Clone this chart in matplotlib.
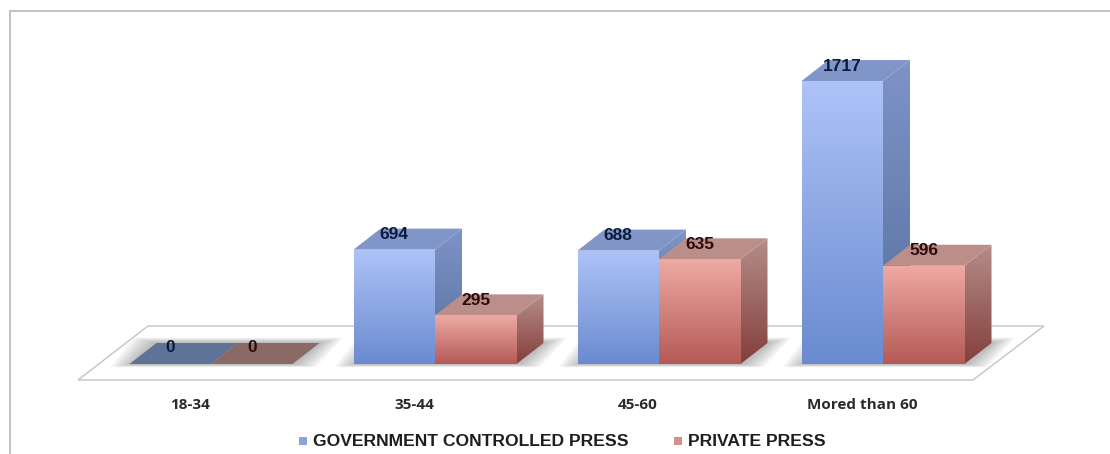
import numpy as np
import matplotlib
matplotlib.use("Agg")
import matplotlib.pyplot as plt
from matplotlib.patches import Polygon
from matplotlib.colors import LinearSegmentedColormap

# values
categories = ["18-34", "35-44", "45-60", "Mored than 60"]
government = [0, 694, 688, 1717]
private = [0, 295, 635, 596]
series_names = ["GOVERNMENT CONTROLLED PRESS", "PRIVATE PRESS"]

W, H = 1110, 454
PX_PER_CAT = 224.0
PX_PER_VAL = 0.1648
BASE_X = 211.0   # pixel of the group centre for category 0
BASE_Y = 364.0   # pixel of value 0, front edge

# depth of the fake 3D box in data units
DX = 27 / PX_PER_CAT
DY = 21 / PX_PER_VAL
BAR_W = 81.5 / PX_PER_CAT

fig = plt.figure(figsize=(W / 100, H / 100), dpi=100)
ax = fig.add_axes([0, 0, 1, 1])
ax.axis("off")
x_lim = (-BASE_X / PX_PER_CAT, (W - BASE_X) / PX_PER_CAT)
y_lim = ((BASE_Y - H) / PX_PER_VAL, BASE_Y / PX_PER_VAL)


def gradient_poly(points, top, bottom, z):
    # fill a polygon with a vertical gradient, imshow clipped to the polygon
    pts = np.array(points)
    cmap = LinearSegmentedColormap.from_list("g", [top, bottom])
    im = ax.imshow(np.linspace(0, 1, 128).reshape(-1, 1), cmap=cmap, aspect="auto",
                   extent=(pts[:, 0].min(), pts[:, 0].max(), pts[:, 1].min(), pts[:, 1].max()),
                   origin="upper", zorder=z)
    clip = Polygon(pts, closed=True, transform=ax.transData, fc="none", ec="none")
    ax.add_patch(clip)
    im.set_clip_path(clip)


def shadow(left, right):
    # soft grey shadow on the floor, stacked see-through shapes
    for k in range(10):
        grow = (9 - k) * 2.6 / PX_PER_CAT
        up = (9 - k) * 0.6 / PX_PER_VAL
        down = (9 - k) * 0.35 / PX_PER_VAL
        pts = [(left - grow + 0.02, -down), (right + grow, -down),
               (right + DX + grow, DY + up), (left + DX - grow, DY + up)]
        ax.add_patch(Polygon(pts, closed=True, fc="#666666", ec="none", alpha=0.06, zorder=2))


def box(left, value, colors, z):
    right = left + BAR_W
    if value == 0:
        flat = [(left, 0), (right, 0), (right + DX, DY), (left + DX, DY)]
        ax.add_patch(Polygon(flat, closed=True, fc=colors["flat"], ec="none", zorder=z))
        return
    # side face
    side = [(right, 0), (right + DX, DY), (right + DX, value + DY), (right, value)]
    gradient_poly(side, colors["side_top"], colors["side_bottom"], z)
    # top face
    top = [(left, value), (right, value), (right + DX, value + DY), (left + DX, value + DY)]
    ax.add_patch(Polygon(top, closed=True, fc=colors["top"], ec="none", zorder=z + 0.1))
    # front face
    front = [(left, 0), (right, 0), (right, value), (left, value)]
    gradient_poly(front, colors["front_top"], colors["front_bottom"], z + 0.2)


blue = {"front_top": "#aec3f8", "front_bottom": "#6a8bd0", "side_top": "#7f93c6",
        "side_bottom": "#54709f", "top": "#8196c8", "flat": "#5f7398"}
red = {"front_top": "#eeaaa4", "front_bottom": "#b45a56", "side_top": "#b58d89",
       "side_bottom": "#843f3c", "top": "#bb8e8a", "flat": "#8b6a66"}

# floor of the chart
fl = -16 / PX_PER_VAL
floor = [(-133 / PX_PER_CAT, fl), (762 / PX_PER_CAT, fl),
         (833 / PX_PER_CAT, fl + 54 / PX_PER_VAL), (-63 / PX_PER_CAT, fl + 54 / PX_PER_VAL)]
ax.add_patch(Polygon(floor, closed=True, fc="white", ec="#c4c4c4", lw=1.0, zorder=1))

for i in range(len(categories)):
    shadow(i - BAR_W, i + BAR_W)

# later categories go on top, the red box goes over the blue side face
for i, (g, p) in enumerate(zip(government, private)):
    box(i - BAR_W, g, blue, 3 + i)
    box(i, p, red, 3.5 + i)


def value_label(xpos, value, color):
    # zero labels sit lower on the flat box
    if value == 0:
        ax.text(xpos, 16 / PX_PER_VAL, str(value), ha="center", va="center", fontsize=12.5,
                fontweight="bold", family="Liberation Sans", color=color, zorder=20)
    else:
        ax.text(xpos, value + 15 / PX_PER_VAL, str(value), ha="center", va="center",
                fontsize=12.5, fontweight="bold", family="Liberation Sans", color=color, zorder=20)


for i, (g, p) in enumerate(zip(government, private)):
    value_label(i - BAR_W / 2, g, "#0c1a3c")
    value_label(i + BAR_W / 2, p, "#2a0c0c")
    ax.text(i - 21 / PX_PER_CAT, -41 / PX_PER_VAL, categories[i], ha="center", va="center",
            fontsize=11, fontweight="bold", family="Open Sans", color="#2a2a2a", zorder=20)

ax.set_xlim(x_lim)
ax.set_ylim(y_lim)

# outer frame and legend are placed in figure pixels
fig.add_artist(plt.Polygon([(9.5 / W, 0), (9.5 / W, 1 - 11 / H), (1, 1 - 11 / H)],
                           closed=False, fill=False, ec="#b8b8b8", lw=1.2, transform=fig.transFigure))
for name, sx, tx, col in [(series_names[0], 299, 313, "#8aa3de"), (series_names[1], 674, 688, "#d98f8b")]:
    fig.patches.append(plt.Rectangle((sx / W, 1 - 445 / H), 8 / W, 8 / H, fc=col, ec="none",
                                     transform=fig.transFigure))
    fig.text(tx / W, 1 - 441 / H, name, ha="left", va="center", fontsize=12.6, fontweight="bold",
             family="Liberation Sans", color="#1e1e1e")

fig.savefig("out.png", dpi=100)
